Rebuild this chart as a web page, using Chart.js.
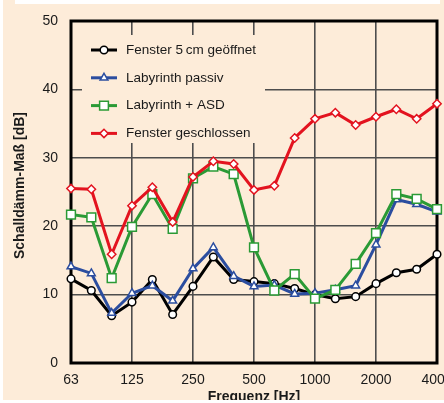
<!DOCTYPE html>
<html>
<head>
<meta charset="utf-8">
<script src="https://cdn.jsdelivr.net/npm/chart.js@4.4.0/dist/chart.umd.min.js"></script>
<style>
html,body{margin:0;padding:0;overflow:hidden;background:#fff;}
#wrap{position:relative;width:444px;height:403px;overflow:hidden;background:#fff;}
#bg{position:absolute;left:3px;top:0;width:441px;height:400px;background:#fdecd9;}
#cw{position:absolute;left:0;top:0;width:470px;height:410px;}
#topband{position:absolute;left:15px;top:0;width:425px;height:4px;background:#fff;}
#bottomband{position:absolute;left:0;top:400px;width:444px;height:3px;background:#fff;}
</style>
</head>
<body>
<div id="wrap">
  <div id="bg"></div>
  <div id="cw"><canvas id="c" width="470" height="410"></canvas></div>
  <div id="topband"></div>
  <div id="bottomband"></div>
</div>
<script>
// ---- data ----
const frequencies = ['63','80','100','125','160','200','250','315','400','500','630','800','1000','1250','1600','2000','2500','3150','4000'];
const tickLabels = ['63','125','250','500','1000','2000','4000'];
const yTicks = [0, 10, 20, 30, 40, 50];
const seriesNames = ['Fenster 5\u2009cm geöffnet', 'Labyrinth passiv', 'Labyrinth + ASD', 'Fenster geschlossen'];
const fensterOffen     = [12.3,10.6,6.9,8.9,12.2,7.1,11.2,15.5,12.2,11.9,11.6,10.9,10.0,9.4,9.7,11.6,13.2,13.7,15.9];
const labyrinthPassiv  = [14.1,13.1,7.3,10.2,11.3,9.1,13.8,16.9,12.7,11.2,11.4,10.1,10.2,10.7,11.3,17.3,23.9,23.2,22.1];
const labyrinthASD     = [21.7,21.3,12.4,19.9,24.7,19.6,27.0,28.7,27.6,16.9,10.6,13.0,9.4,10.7,14.5,19.0,24.7,24.0,22.5];
const fensterZu        = [25.5,25.4,15.9,23.0,25.7,20.6,27.2,29.5,29.1,25.3,25.9,32.9,35.7,36.6,34.8,36.0,37.1,35.7,37.9];
const xTitle = 'Frequenz [Hz]';
const yTitle = 'Schalldämm-Maß [dB]';

// ---- styles ----
const PEACH = '#fdecd9';
const GRID = '#4d4d4d';
const FONT = '"Liberation Sans", Arial, Helvetica, sans-serif';
Chart.defaults.font.family = FONT;

function mkDs(label, data, color, style, radius, order) {
  return {
    label, data, order,
    borderColor: color, borderWidth: 3, tension: 0,
    pointStyle: style, pointRadius: radius, pointHoverRadius: radius,
    pointBackgroundColor: '#fff', pointBorderColor: color, pointBorderWidth: 1.5,
    clip: false
  };
}

const datasets = [
  mkDs(seriesNames[0], fensterOffen, '#000000', 'circle', 3.8, 3),
  mkDs(seriesNames[1], labyrinthPassiv, '#2b4d9f', 'triangle', 4.5, 2),
  mkDs(seriesNames[2], labyrinthASD, '#2a9a35', 'rect', 6.2, 1),
  mkDs(seriesNames[3], fensterZu, '#e3131f', 'rectRot', 4.2, 0)
];

function drawMarker(ctx, style, r, x, y) {
  if (Chart.helpers && Chart.helpers.drawPoint) {
    Chart.helpers.drawPoint(ctx, {pointStyle: style, radius: r, borderWidth: ctx.lineWidth, rotation: 0}, x, y);
    return;
  }
  ctx.beginPath();
  if (style === 'circle') ctx.arc(x, y, r, 0, Math.PI * 2);
  else if (style === 'triangle') {
    ctx.moveTo(x, y - r);
    ctx.lineTo(x + r * Math.sin(2 * Math.PI / 3), y - r * Math.cos(2 * Math.PI / 3));
    ctx.lineTo(x + r * Math.sin(4 * Math.PI / 3), y - r * Math.cos(4 * Math.PI / 3));
    ctx.closePath();
  } else if (style === 'rect') {
    const s = Math.SQRT1_2 * r; ctx.rect(x - s, y - s, 2 * s, 2 * s);
  } else {
    ctx.moveTo(x - r, y); ctx.lineTo(x, y - r); ctx.lineTo(x + r, y); ctx.lineTo(x, y + r); ctx.closePath();
  }
  ctx.fill(); ctx.stroke();
}

const framePlugin = {
  id: 'frameLegend',
  beforeDatasetsDraw(chart) {
    const ctx = chart.ctx, ca = chart.chartArea;
    ctx.save();
    // legend box (covers the grid behind it)
    const bx = ca.left + 11, by = ca.top + 14, bw = 183, bh = 108;
    ctx.fillStyle = PEACH;
    ctx.fillRect(bx, by, bw, bh);
    // frame
    ctx.lineWidth = 3;
    ctx.strokeStyle = '#000';
    ctx.strokeRect(ca.left, ca.top, ca.right - ca.left, ca.bottom - ca.top);
    // legend entries
    chart.data.datasets.forEach((ds, i) => {
      const y = by + 15 + i * 27.8;
      const x0 = bx + 9, x1 = bx + 35, xm = (x0 + x1) / 2;
      ctx.lineWidth = 3;
      ctx.strokeStyle = ds.borderColor;
      ctx.beginPath(); ctx.moveTo(x0, y); ctx.lineTo(x1, y); ctx.stroke();
      ctx.lineWidth = 1.5;
      ctx.fillStyle = '#fff';
      drawMarker(ctx, ds.pointStyle, ds.pointRadius, xm, y);
      ctx.fillStyle = '#1a1a1a';
      ctx.font = '13.5px ' + FONT;
      ctx.textAlign = 'left';
      ctx.textBaseline = 'middle';
      ctx.fillText(ds.label, bx + 44, y);
    });
    ctx.restore();
  },
  afterDraw(chart) {
    const ctx = chart.ctx, ca = chart.chartArea;
    ctx.save();
    ctx.translate(20, (ca.top + ca.bottom) / 2 - 6.5);
    ctx.rotate(-Math.PI / 2);
    ctx.font = 'bold 14px ' + FONT;
    ctx.fillStyle = '#1a1a1a';
    ctx.textAlign = 'center';
    ctx.textBaseline = 'middle';
    ctx.fillText(yTitle, 0, 0);
    ctx.restore();
  }
};

new Chart(document.getElementById('c'), {
  type: 'line',
  data: { labels: frequencies, datasets },
  options: {
    responsive: false,
    animation: false,
    events: [],
    layout: { padding: { left: 0, right: 33, top: 21, bottom: 0 } },
    plugins: { legend: { display: false }, tooltip: { enabled: false } },
    scales: {
      x: {
        type: 'category',
        offset: false,
        border: { display: false },
        grid: {
          drawTicks: false,
          lineWidth: 1.6,
          color: (c) => tickLabels.includes(frequencies[c.index]) ? GRID : 'rgba(0,0,0,0)'
        },
        ticks: {
          autoSkip: false, maxRotation: 0, minRotation: 0, padding: 9,
          color: '#1a1a1a', font: { size: 14 },
          callback: (v, i) => tickLabels.includes(frequencies[i]) ? frequencies[i] : ''
        },
        title: { display: true, text: xTitle, color: '#1a1a1a', font: { size: 14, weight: 'bold' }, padding: { top: 0, bottom: 4 } },
        afterFit: (s) => { s.height = 47; s.paddingLeft = 0; s.paddingRight = 0; }
      },
      y: {
        min: yTicks[0], max: yTicks[yTicks.length - 1],
        border: { display: false },
        grid: { drawTicks: false, lineWidth: 1.6, color: GRID },
        ticks: {
          stepSize: 10, padding: 13, color: '#1a1a1a', font: { size: 14 },
          callback: (v) => yTicks.includes(v) ? String(v) : ''
        },
        afterFit: (s) => { s.width = 71; s.paddingTop = 0; s.paddingBottom = 0; }
      }
    }
  },
  plugins: [framePlugin]
});
</script>
</body>
</html>
